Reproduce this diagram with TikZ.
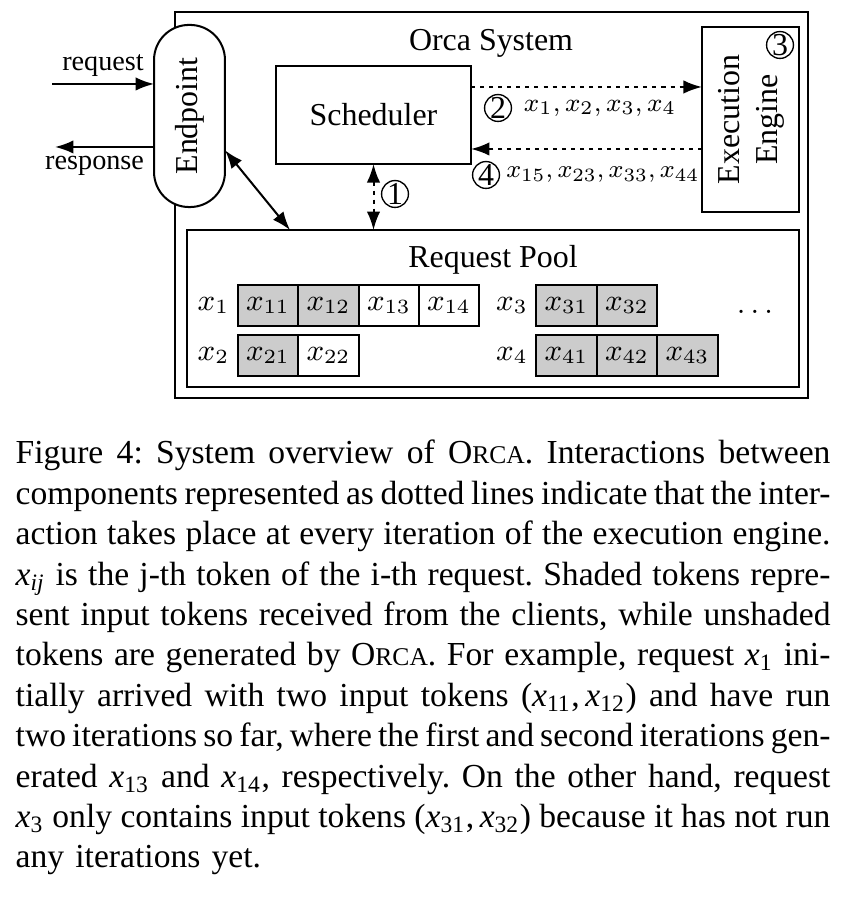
\documentclass[tikz,border=0pt]{standalone}
\usepackage[no-math]{fontspec}
\setmainfont{Liberation Serif}
\usepackage{graphicx}
\usetikzlibrary{positioning,arrows.meta}

\newcommand{\cx}[1]{\textit{x}\textsubscript{#1}}
\newcommand{\orca}{O{\fontsize{7.6}{9}\selectfont RCA}}
\newcommand{\capline}[1]{\leavevmode\hbox to 242.5pt{\spaceskip=0.25em plus 0.4em minus 0.13em\relax #1}}
\newcommand{\capsetup}{\fontsize{10}{12.02}\selectfont\frenchspacing}

\begin{document}
\begin{tikzpicture}[x=0.2976pt,y=0.2976pt,
  font=\fontsize{9.5}{11.4}\selectfont,
  box/.style={draw,semithick,inner sep=0pt,outer sep=0pt},
  tokin/.style={draw,semithick,fill=black!20,minimum width=17.95pt,minimum height=12.2pt,
    inner sep=0pt,outer sep=0pt,font=\fontsize{9}{10.8}\selectfont},
  tokout/.style={tokin,fill=white},
  cnum/.style={circle,draw,thin,inner sep=0pt,minimum size=8pt},
  small/.style={font=\fontsize{8}{9.6}\selectfont},
  iter/.style={dash pattern=on 1.2pt off 1.5pt},
  arr/.style={-{Latex[length=5.5pt,width=4pt]},semithick},
  dual/.style={{Latex[length=5.5pt,width=4pt]}-{Latex[length=5.5pt,width=4pt]},semithick}]
\useasboundingbox (0,0) rectangle (853,898);

% system frame and its parts
\node[box,line width=0.8pt,minimum width=188.4pt,minimum height=114.9pt] (orca) at (491.5,693) {};
\node (title) at (491,855) {Orca System};
\node[box,fill=white,rounded corners=10.4pt,minimum width=21.1pt,minimum height=54.2pt] (endpoint)
  at (189.5,782) {\rotatebox{90}{Endpoint}};
\node[box,minimum width=58pt,minimum height=29.2pt] (sched) at (373.5,783) {Scheduler};
\node[box,minimum width=28.9pt,minimum height=55pt] (engine) at (750.5,778.5)
  {\rotatebox{90}{\begin{tabular}{@{}c@{}}Execution\\Engine\end{tabular}}};
\node[cnum] (c3) at (780,853) {3};

% request pool
\node[box,minimum width=182.1pt,minimum height=46.7pt] (pool) at (493,589.5) {};
\node (pooltitle) at (493,638) {Request Pool};
\foreach \n/\x/\y/\s in {11/268/592.5/tokin, 12/328.5/592.5/tokin, 13/389/592.5/tokout,
    14/449/592.5/tokout, 21/268/542.5/tokin, 22/328.5/542.5/tokout, 31/566.5/592.5/tokin,
    32/627/592.5/tokin, 41/566.5/542.5/tokin, 42/627/542.5/tokin, 43/687.5/542.5/tokin}
  \node[\s] (x\n) at (\x,\y) {$x_{\n}$};
\foreach \r in {1,2,3,4}
  \node[left=-1pt of x\r1,font=\fontsize{9}{10.8}\selectfont] (req\r) {$x_\r$};
\node (more) at (755,586) {$\ldots$};

% client side
\coordinate (reqin) at (52,814);
\coordinate (respout) at (55,751);
\draw[arr] (reqin) -- (reqin -| endpoint.west) node[midway,above=-1.5pt,font=\fontsize{8.4}{10}\selectfont] {request};
\draw[arr] (endpoint.west |- respout) -- (respout) node[pos=0.6,below=-1pt,font=\fontsize{8.4}{10}\selectfont] {response};
\draw[dual] (endpoint.-44) -- (290,0 |- pool.north);

% per-iteration interactions
\draw[dual,iter] (sched.south) -- (sched.south |- pool.north);
\node[cnum] (c1) at (395,704) {1};
\draw[arr,iter] (sched.east |- 0,811) -- (engine.west |- 0,811);
\draw[arr,iter] (engine.west |- 0,749) -- (sched.east |- 0,749);
\node[cnum] (c2) at (498,790) {2};
\node[right=0pt of c2,small] (sent) {\scalebox{0.96}{$x_1,x_2,x_3,x_4$}};
\node[cnum] (c4) at (486,723) {4};
\node[right=-1.7pt of c4,small] (back) {\scalebox{0.93}{$x_{15},x_{23},x_{33},x_{44}$}};

% caption
\node[anchor=base west,text width=242.5pt,inner sep=0pt,align=left,font=\capsetup]
  (caption) at (15,434) {%
\capline{Figure 4: System overview of \orca. Interactions between}\\
\capline{components represented as dotted lines indicate that the inter-}\\
\capline{action takes place at every iteration of the execution engine.}\\
\capline{\cx{\textit{ij}} is the j-th token of the i-th request. Shaded tokens repre-}\\
\capline{sent input tokens received from the clients, while unshaded}\\
\capline{tokens are generated by \orca. For example, request \cx{1} ini-}\\
\capline{tially arrived with two input tokens (\cx{11},\,\cx{12}) and have run}\\
\capline{two iterations so far, where the first and second iterations gen-}\\
\capline{erated \cx{13} and \cx{14}, respectively. On the other hand, request}\\
\capline{\cx{3} only contains input tokens (\cx{31},\,\cx{32}) because it has not run}\\
any iterations yet.};
\end{tikzpicture}
\end{document}
